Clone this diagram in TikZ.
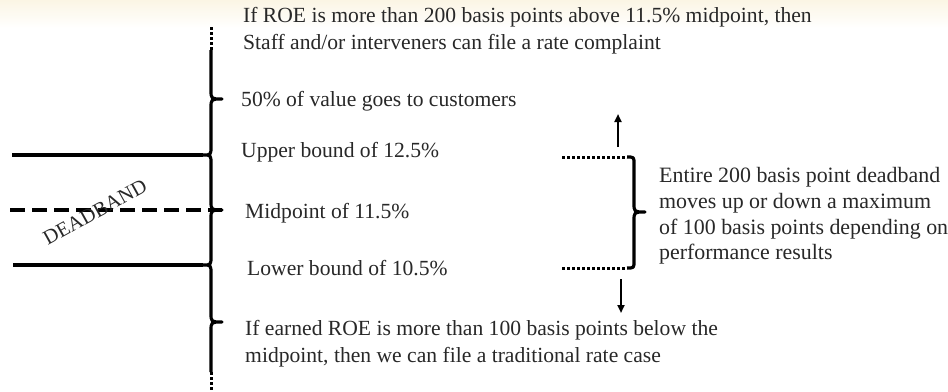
\documentclass[tikz,border=0pt]{standalone}
\usepackage{fontspec}
\setmainfont{Liberation Serif}
\usetikzlibrary{arrows.meta}
\definecolor{txt}{RGB}{40,40,40}
\definecolor{cream}{RGB}{251,245,228}
\tikzset{
  lbl/.style={anchor=west, inner sep=0pt, align=left, text=txt,
    font=\fontsize{21.6}{26.8}\selectfont},
  bracel/.style={line width=3.2pt, line join=round},
  dotl/.style={line width=3pt, dash pattern=on 2.6pt off 2.4pt},
  bandl/.style={line width=3.2pt},
  midl/.style={line width=3.2pt, dash pattern=on 15pt off 7pt},
  arr/.style={line width=2.8pt, -{Triangle[length=8pt,width=7pt]}}
}
\begin{document}
\begin{tikzpicture}[x=1pt,y=-1pt]
\useasboundingbox (0,0) rectangle (948,391);
\fill[white] (0,0) rectangle (948,391);
\shade[top color=cream, bottom color=white] (0,0) rectangle (948,28);

% named points on the left scale
\coordinate (topd) at (211,27);
\coordinate (tops) at (211,50);
\coordinate (ub) at (203,155);
\coordinate (mp) at (222,210);
\coordinate (lb) at (203,265);
\coordinate (bots) at (211,372);
\coordinate (botd) at (211,391);
\coordinate (ubL) at (12,155);
\coordinate (mpL) at (10,210);
\coordinate (lbL) at (13,265);

% main scale made of stacked braces
\draw[dotl] (topd) -- (tops);
\draw[bracel] (tops) -- (211,90) .. controls (211,99) .. (222,99)
  .. controls (211,99) .. (211,108) -- (211,146)
  .. controls (211,155) .. (ub)
  .. controls (211,155) .. (211,164) -- (211,201)
  .. controls (211,210) .. (mp)
  .. controls (211,210) .. (211,219) -- (211,256)
  .. controls (211,265) .. (lb)
  .. controls (211,265) .. (211,274) -- (211,313)
  .. controls (211,322) .. (222,322)
  .. controls (211,322) .. (211,331) -- (bots);
\draw[dotl] (bots) -- (botd);

% band lines
\draw[bandl] (ubL) -- (ub);
\draw[midl] (mpL) -- (mp);
\draw[bandl] (lbL) -- (lb);

\node[rotate=29, inner sep=0pt, text=txt, font=\fontsize{20.5}{22}\selectfont] (db) at (95,212) {DEADBAND};

% texts on the left scale
\node[lbl] (t1) at (243,31) {If ROE is more than 200 basis points above 11.5\% midpoint, then\\Staff and/or interveners can file a rate complaint};
\node[lbl] (t2) at (241,101) {50\% of value goes to customers};
\node[lbl] (t3) at (241,152) {Upper bound of 12.5\%};
\node[lbl] (t4) at (245,213) {Midpoint of 11.5\%};
\node[lbl] (t5) at (247,268) {Lower bound of 10.5\%};
\node[lbl] (t6) at (245,344) {If earned ROE is more than 100 basis points below the\\midpoint, then we can file a traditional rate case};

% right brace
\coordinate (rtL) at (562,157);
\coordinate (rt) at (627,157);
\coordinate (rbL) at (562,268);
\coordinate (rb) at (627,268);
\coordinate (rtip) at (645,212);
\draw[dotl] (rtL) -- (rt);
\draw[dotl] (rbL) -- (rb);
\draw[bracel] (rt) .. controls (634,157) .. (634,164) -- (634,203)
  .. controls (634,212) .. (rtip)
  .. controls (634,212) .. (634,221) -- (634,261)
  .. controls (634,268) .. (rb);

\coordinate (upA) at (618,147);
\coordinate (upB) at (618,114);
\coordinate (dnA) at (621,279);
\coordinate (dnB) at (621,313);
\draw[arr] (upA) -- (upB);
\draw[arr] (dnA) -- (dnB);

\node[lbl, font=\fontsize{21.9}{25.7}\selectfont] (t7) at (659,216) {Entire 200 basis point deadband\\moves up or down a maximum\\of 100 basis points depending on\\performance results};
\end{tikzpicture}
\end{document}
